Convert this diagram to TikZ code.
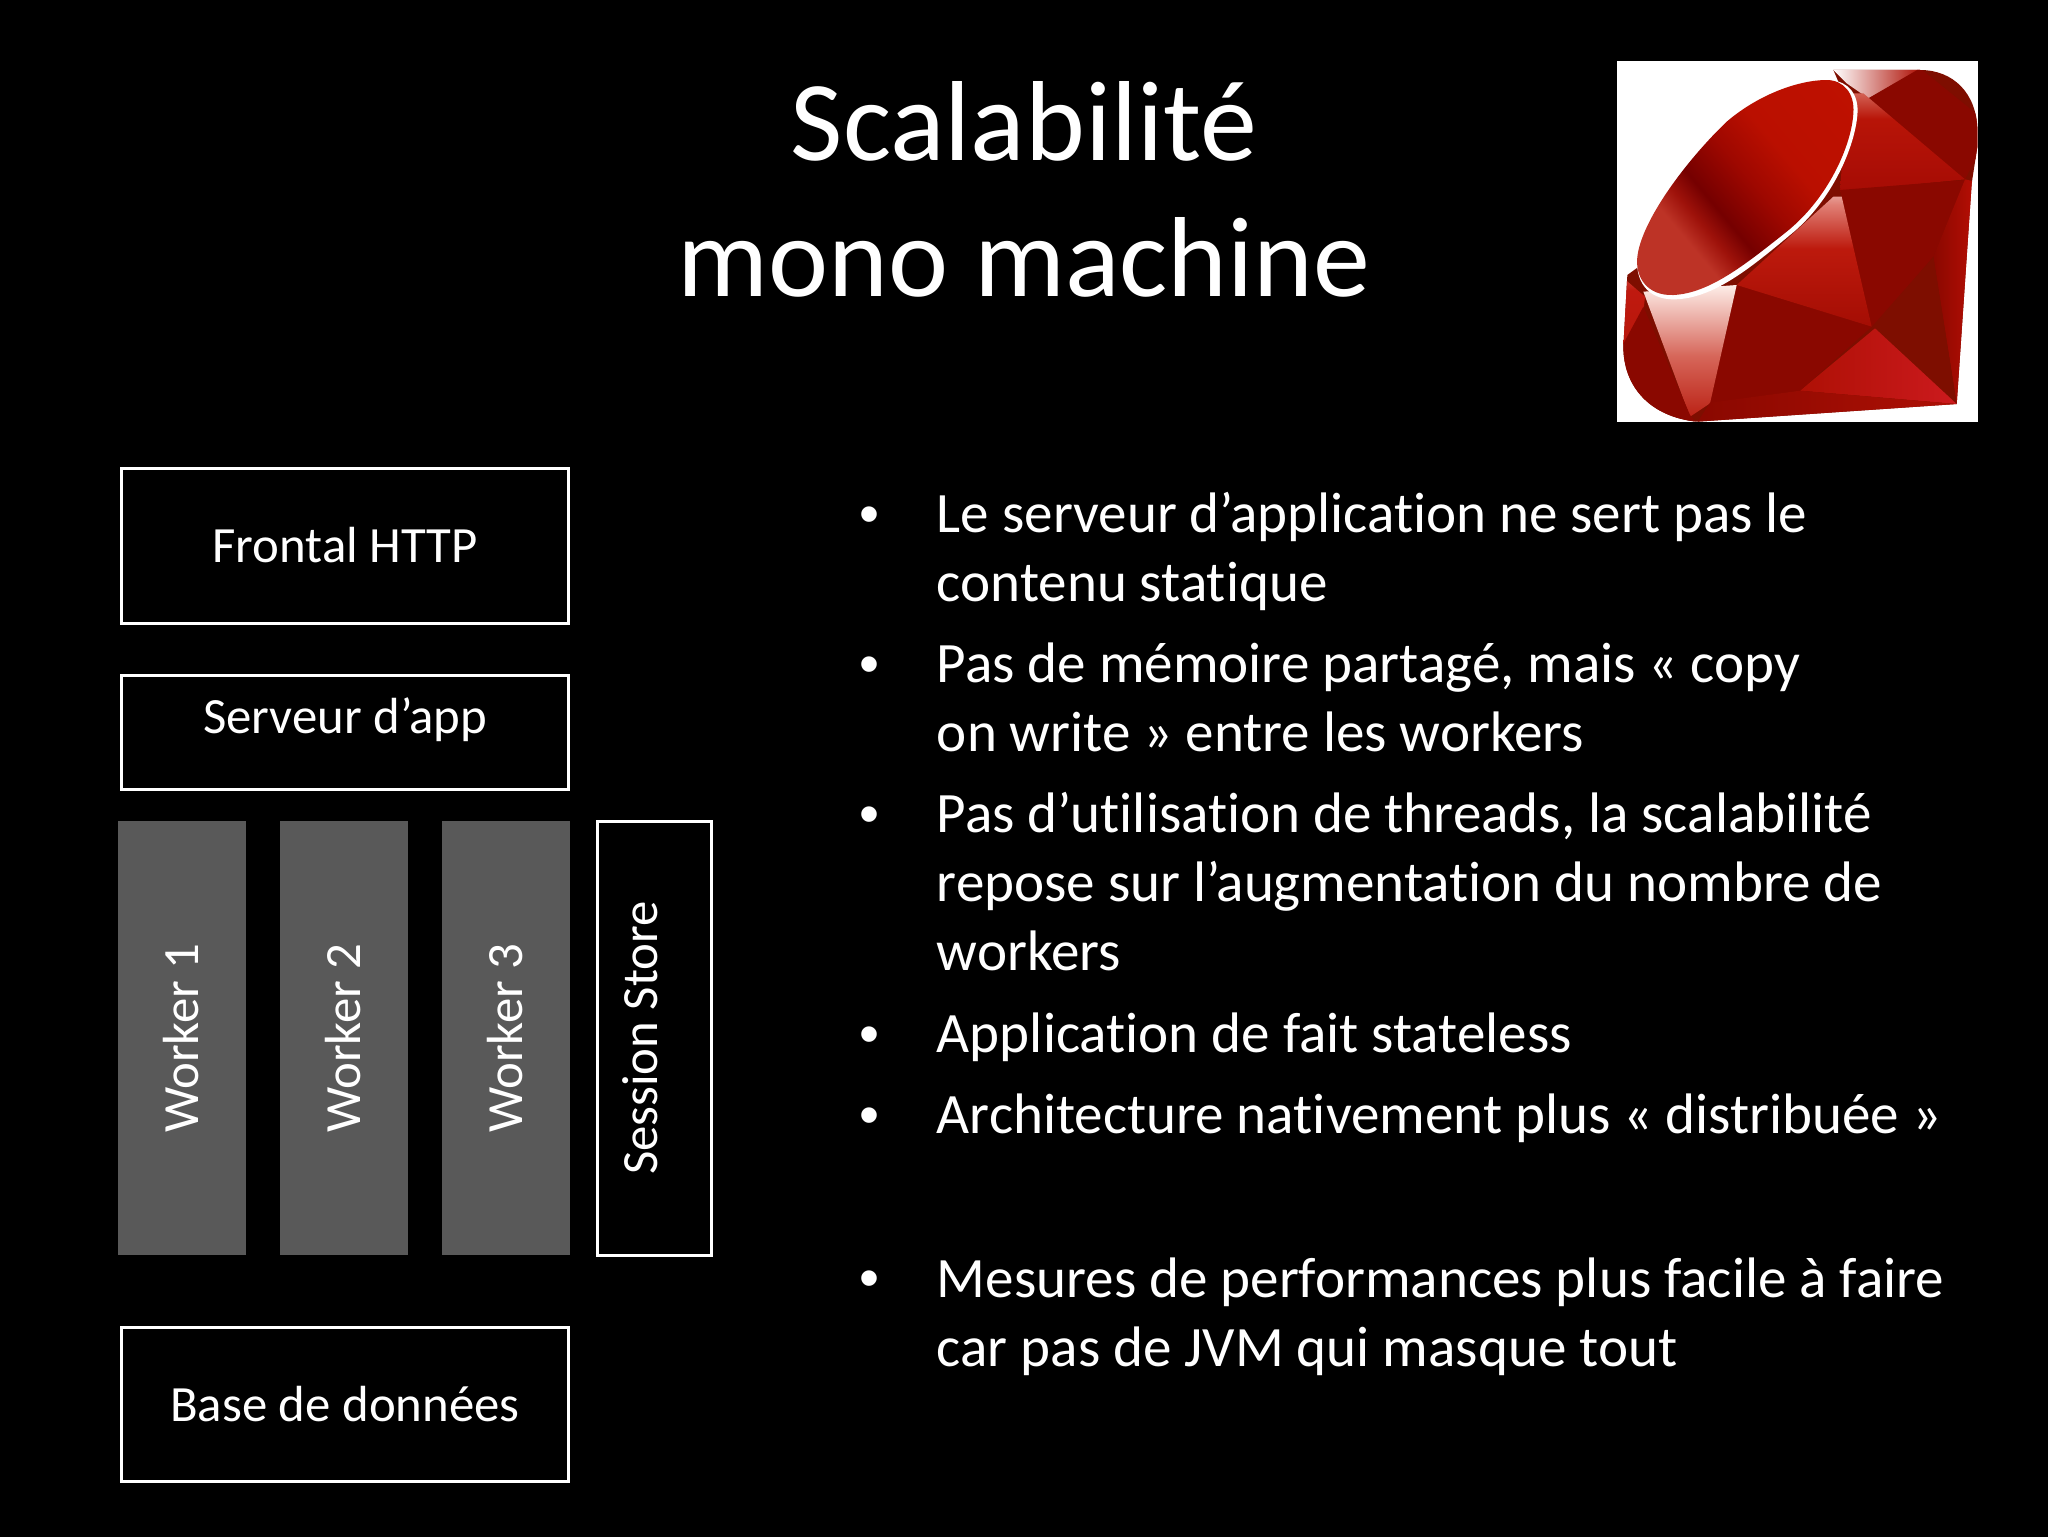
\documentclass[tikz,border=0pt]{standalone}
\usepackage{fontspec}
\setmainfont[Ligatures=NoCommon]{Carlito}
\newfontfamily\bulletfont{Liberation Sans}
\definecolor{workergray}{HTML}{595959}
\definecolor{rubydeep}{HTML}{8A0800}
\definecolor{rubydark}{HTML}{7E0E00}
\definecolor{rubymid}{HTML}{AE1005}
\definecolor{rubybright}{HTML}{CC1A1E}
\pgfdeclarehorizontalshading{rubyell}{100bp}{
  rgb(0bp)=(0.74,0.20,0.15);rgb(32bp)=(0.74,0.20,0.15);rgb(37bp)=(0.62,0.07,0.04);
  rgb(42bp)=(0.46,0.0,0.0);rgb(52bp)=(0.62,0.03,0.0);rgb(62bp)=(0.73,0.06,0.0);rgb(100bp)=(0.76,0.07,0.0)}
\pgfdeclareverticalshading{fadeupper}{100bp}{
  rgb(0bp)=(0.62,0.04,0.0);rgb(30bp)=(0.66,0.05,0.02);rgb(62bp)=(0.72,0.08,0.03);rgb(78bp)=(0.85,0.45,0.40);rgb(88bp)=(1,1,1);rgb(100bp)=(1,1,1)}
\pgfdeclareverticalshading{fademiddle}{100bp}{
  rgb(0bp)=(0.55,0.03,0.0);rgb(30bp)=(0.66,0.06,0.02);rgb(55bp)=(0.74,0.10,0.05);rgb(72bp)=(0.88,0.50,0.46);rgb(86bp)=(1,1,1);rgb(100bp)=(1,1,1)}
\pgfdeclareverticalshading{fadelower}{100bp}{
  rgb(0bp)=(0.60,0.03,0.0);rgb(22bp)=(0.72,0.10,0.05);rgb(48bp)=(0.84,0.40,0.35);rgb(76bp)=(1,0.95,0.93);rgb(100bp)=(1,1,1)}
\pgfdeclareverticalshading{fadeleft}{100bp}{
  rgb(0bp)=(0.70,0.08,0.03);rgb(65bp)=(0.75,0.10,0.06);rgb(85bp)=(0.86,0.42,0.38);rgb(97bp)=(1,1,1);rgb(100bp)=(1,1,1)}
\tikzset{
  px/.style={x=0.5pt,y=-0.5pt},
  labelfont/.style={font=\fontsize{25.4}{30}\selectfont},
  boxnode/.style={draw=white,line width=1.5pt,fill=black,text=white,labelfont,minimum width=223.5pt,inner sep=0pt,outer sep=0pt,anchor=north west},
  workernode/.style={fill=workergray,text=white,labelfont,minimum width=217pt,minimum height=64pt,inner sep=0pt,outer sep=0pt,rotate=90},
  bodyline/.style={text=white,font=\fontsize{28.55}{34}\selectfont,anchor=base west,inner sep=0pt},
  bulletmark/.style={text=white,font=\bulletfont\fontsize{28.55}{34}\selectfont,anchor=base,inner sep=0pt},
  titleline/.style={text=white,font=\fontsize{56.9}{66}\selectfont,anchor=base,inner sep=0pt},
}
\begin{document}
\begin{tikzpicture}[px]
\useasboundingbox (0,0) rectangle (2048,1536);
\fill[black] (-10,-10) rectangle (2058,1546);
% title
\node[titleline] (t1) at (1024,160) {Scalabilité};
\node[titleline] (t2) at (1024,296) {mono machine};
% logo
\fill[white] (1617,61) rectangle (1978,422);
\begin{scope}[xshift=800pt,yshift=-25pt,x=0.16667pt,y=-0.16667pt]
\begin{scope}
\clip (700,60) -- (960,60) .. controls (1060,60) and (1130,130) .. (1132,240) -- (1132,290) -- (1115,400) -- (1070,1062) -- (290,1115) .. controls (150,1100) and (70,1010) .. (70,890) -- (82,675) -- (130,640) -- (730,130) -- cycle;
\fill[rubydark] (0,0) rectangle (1200,1200);
\shade[left color=white,right color=rubymid] (700,60) -- (960,60) -- (805,145) -- (740,100) -- cycle;
\fill[rubydeep] (805,145) -- (960,55) -- (1140,200) -- (1140,300) -- (1095,388) -- cycle;
\shade[shading=fadeupper] (790,130) -- (1095,388) -- (720,425) -- (740,130) -- cycle;
\fill[rubydeep] (720,420) -- (1095,390) -- (1000,620) -- (815,830) -- cycle;
\shade[left color=rubydeep,right color=rubymid!90!red] (1095,388) -- (1125,395) -- (1070,1062) -- (1000,620) -- cycle;
\fill[rubydark] (1000,620) -- (1070,1062) -- (825,835) -- cycle;
\shade[shading angle=135,left color=rubymid,right color=rubybright] (825,835) -- (1070,1062) -- (600,1022) -- cycle;
\fill[rubydeep] (410,705) -- (815,830) -- (600,1022) -- (330,1060) -- cycle;
\shade[shading=fademiddle] (700,440) -- (725,440) -- (815,830) -- (410,705) -- cycle;
\shade[shading=fadelower] (130,725) -- (410,705) -- (330,1060) -- (270,1100) -- cycle;
\shade[shading=fadeleft] (60,675) -- (135,740) -- (130,785) -- (60,900) -- cycle;
\fill[rubydeep] (130,770) -- (60,900) -- (60,1120) -- (290,1120) -- (270,1095) -- cycle;
\shade[left color=rubydeep,right color=rubymid] (290,1120) -- (330,1058) -- (600,1022) -- (1070,1062) -- cycle;
\end{scope}
% rim and table of the stone
\fill[white] (692,92) .. controls (745,92) and (778,135) .. (772,195) .. controls (765,285) and (700,450) .. (570,555) .. controls (450,655) and (340,745) .. (225,748) .. controls (140,750) and (105,690) .. (112,620) -- (380,215) .. controls (480,130) and (610,92) .. (692,92) -- cycle;
\shade[shading=rubyell,shading angle=40] (680,90) .. controls (730,90) and (765,130) .. (760,190) .. controls (755,280) and (690,440) .. (560,545) .. controls (440,640) and (330,730) .. (220,735) .. controls (140,738) and (105,680) .. (112,620) .. controls (125,510) and (260,330) .. (380,215) .. controls (480,130) and (600,90) .. (680,90) -- cycle;
\end{scope}
% diagram boxes
\node[boxnode,minimum height=77.5pt] (front) at (121.5,468) {Frontal HTTP};
\node[boxnode,minimum height=57pt] (srv) at (121.5,675) {};
\node[text=white,labelfont,inner sep=0pt] (srvlabel) at (345,720) {Serveur d’app};
\node[workernode] (w1) at (181.5,1038) {Worker 1};
\node[workernode] (w2) at (343.5,1038) {Worker 2};
\node[workernode] (w3) at (505.5,1038) {Worker 3};
\node[draw=white,line width=1.5pt,minimum width=217pt,minimum height=57pt,inner sep=0pt,outer sep=0pt,rotate=90] (sess) at (654,1038) {};
\node[text=white,labelfont,inner sep=0pt,rotate=90] (sesslabel) at (640,1038) {Session Store};
\node[boxnode,minimum height=77pt] (db) at (121.5,1327) {Base de données};
% bullets
\foreach \yy/\nm in {533/a,683/b,833/c,1053/d,1134/e,1297/f}
  \node[bulletmark] (b\nm) at (869,\yy) {•};
\node[bodyline] (l1) at (936.5,532) {Le serveur d’application ne sert pas le};
\node[bodyline] (l2) at (936.5,601) {contenu statique};
\node[bodyline] (l3) at (936.5,682) {Pas de mémoire partagé, mais « copy};
\node[bodyline] (l4) at (936.5,751) {on write » entre les workers};
\node[bodyline] (l5) at (936.5,832) {Pas d’utilisation de threads, la scalabilité};
\node[bodyline] (l6) at (936.5,901) {repose sur l’augmentation du nombre de};
\node[bodyline] (l7) at (936.5,970) {workers};
\node[bodyline] (l8) at (936.5,1052) {Application de fait stateless};
\node[bodyline] (l9) at (936.5,1133) {Architecture nativement plus « distribuée »};
\node[bodyline] (l10) at (936.5,1297) {Mesures de performances plus facile à faire};
\node[bodyline] (l11) at (936.5,1366) {car pas de JVM qui masque tout};
\end{tikzpicture}
\end{document}
